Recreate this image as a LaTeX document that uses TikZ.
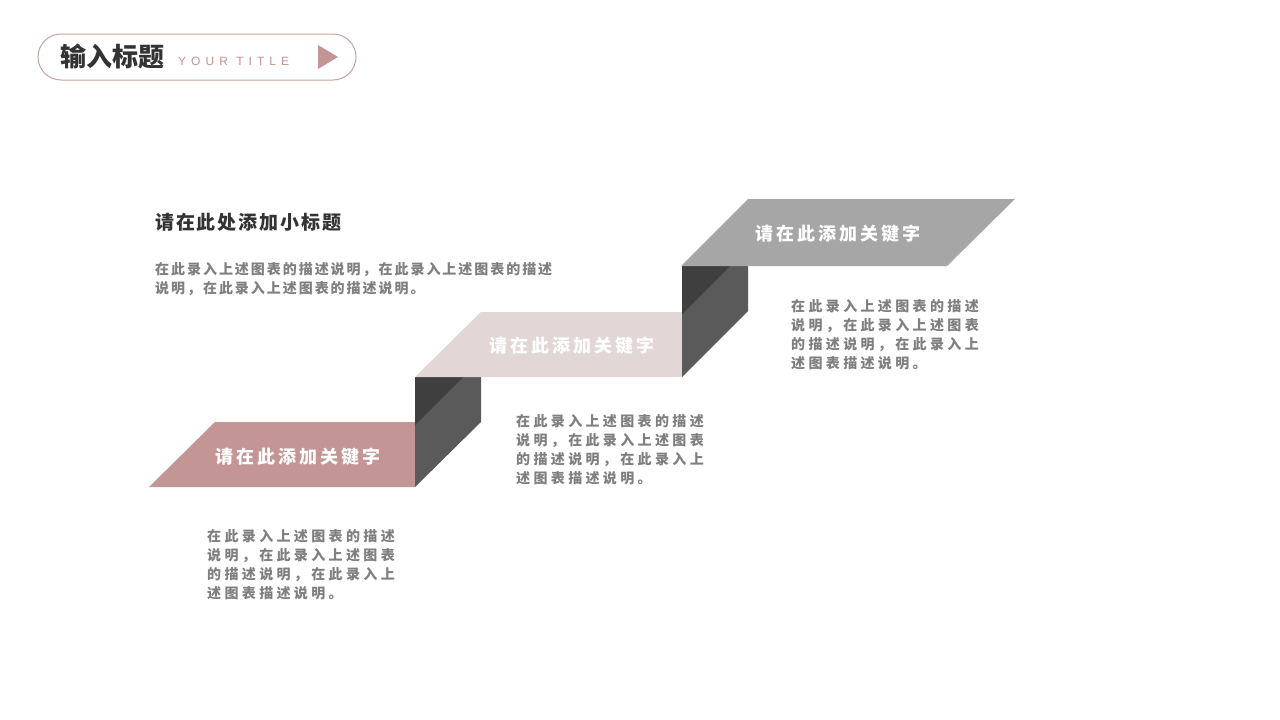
\documentclass[tikz,border=0pt]{standalone}
\usepackage{fontspec}
\usepackage{xcolor}
\usepackage{tikz}
\usetikzlibrary{positioning,calc}

\setmainfont{Noto Sans CJK SC}
\newfontfamily\cjk{Noto Sans CJK SC}
\newfontfamily\cjkhead[LetterSpace=10]{Noto Sans CJK SC}
\newfontfamily\cjkkey[LetterSpace=16]{Noto Sans CJK SC}
\newfontfamily\cjkcap[LetterSpace=24]{Noto Sans CJK SC}
\newfontfamily\cjkbody[LetterSpace=14]{Noto Sans CJK SC}
\newfontfamily\latinwide[LetterSpace=42]{Liberation Sans}

\definecolor{rosepink}{HTML}{C39595}
\definecolor{palepink}{HTML}{E3D6D6}
\definecolor{stepgray}{HTML}{A6A6A6}
\definecolor{riserdark}{HTML}{3F3F3F}
\definecolor{riserlight}{HTML}{5A5A5A}
\definecolor{headtext}{HTML}{333333}
\definecolor{bodytext}{HTML}{7F7F7F}
\definecolor{pillline}{HTML}{C4A3A4}

\begin{document}
\begin{tikzpicture}[x=1pt,y=-1pt,
    keyword/.style={text=white, inner sep=0pt, font=\cjkkey\bfseries\fontsize{18}{22}\selectfont},
    caption/.style={text=bodytext, inner sep=0pt, anchor=north west, align=left, font=\cjkcap\bfseries\fontsize{14}{19}\selectfont}]
    \useasboundingbox (0,0) rectangle (1280,720);
    \fill[white] (0,0) rectangle (1280,720);

    % title pill
    \draw[pillline, line width=1pt, rounded corners=23pt] (38,34) rectangle (356,80);
    \node (title) [anchor=west, inner sep=0pt, text=headtext, font=\cjk\bfseries\fontsize{26}{30}\selectfont] at (60,57) {输入标题};
    \node (entitle) [anchor=west, inner sep=0pt, text=rosepink, font=\latinwide\fontsize{12}{14}\selectfont] at (178,61) {YOUR TITLE};
    \fill[rosepink] (318,45) -- (338,57) -- (318,69) -- cycle;

    % steps
    \fill[rosepink] (149,487) -- (215,422) -- (415,422) -- (415,487) -- cycle;
    \fill[riserlight] (415,377) -- (481,377) -- (481,422) -- (415,487) -- cycle;
    \fill[riserdark] (415,377) -- (463,377) -- (415,425) -- cycle;
    \fill[palepink] (415,377) -- (481,312) -- (682,312) -- (682,377) -- cycle;
    \fill[riserlight] (682,266) -- (748,266) -- (748,311) -- (682,377) -- cycle;
    \fill[riserdark] (682,266) -- (730,266) -- (682,314) -- cycle;
    \fill[stepgray] (681,266) -- (748,199) -- (1015,199) -- (947,266) -- cycle;

    \node (keyone) [keyword] at (298,457) {请在此添加关键字};
    \node (keytwo) [keyword] at (572,346) {请在此添加关键字};
    \node (keythree) [keyword] at (838,234) {请在此添加关键字};

    % texts
    \node (subtitle) [anchor=west, inner sep=0pt, text=headtext, font=\cjkhead\bfseries\fontsize{19}{23}\selectfont] at (155,222) {请在此处添加小标题};
    \node (intro) [caption, font=\cjkbody\bfseries\fontsize{14}{19}\selectfont] at (155,262) {在此录入上述图表的描述说明，在此录入上述图表的描述\\说明，在此录入上述图表的描述说明。};

    \node (capone) [caption] at (207,529) {在此录入上述图表的描述\\说明，在此录入上述图表\\的描述说明，在此录入上\\述图表描述说明。};
    \node (captwo) [caption] at (516,414) {在此录入上述图表的描述\\说明，在此录入上述图表\\的描述说明，在此录入上\\述图表描述说明。};
    \node (capthree) [caption] at (791,299) {在此录入上述图表的描述\\说明，在此录入上述图表\\的描述说明，在此录入上\\述图表描述说明。};
\end{tikzpicture}
\end{document}
